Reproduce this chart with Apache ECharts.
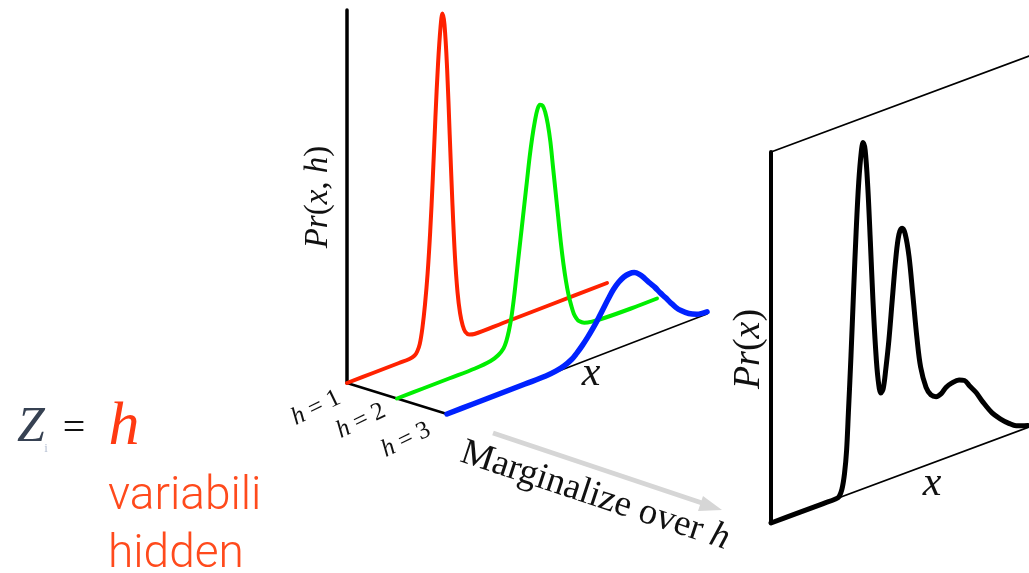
<!DOCTYPE html>
<html>
<head>
<meta charset="utf-8">
<script src="https://cdn.jsdelivr.net/npm/echarts@6/dist/echarts.min.js"></script>
<style>
  html, body { margin: 0; padding: 0; background: #ffffff; }
  #chart { width: 1029px; height: 573px; }
</style>
</head>
<body>
<div id="chart"></div>
<script>
// ---- data -------------------------------------------------------------
// x positions along the x axis (0..100) and Pr(x, h) for each hidden state
const hLevels = [1, 2, 3];
const hTickLabels = ['h = 1', 'h = 2', 'h = 3'];

const xRed = [0, 10, 20, 24, 26, 27, 28, 29, 30, 31, 32, 33, 34, 35, 36, 36.7, 37.5, 38.5, 39.5, 40.5,
              41.5, 42.5, 43.5, 44.5, 45.5, 47, 49, 60, 80, 100];
const prRed = [0, 0, 0, 0, 0.004, 0.012, 0.03, 0.07, 0.13, 0.21, 0.32, 0.46, 0.62, 0.76, 0.86, 0.892, 0.86, 0.74, 0.56, 0.38,
               0.23, 0.13, 0.07, 0.035, 0.015, 0.004, 0, 0, 0, 0];

const xGreen = [0, 10, 20, 30, 36, 39, 41, 42, 43, 44, 45, 46, 47, 48, 49, 50, 51, 52, 53, 54,
                55, 56, 57, 58, 59, 60, 61, 62, 63, 64, 65, 66, 67, 68, 69, 70, 72, 75, 80, 90, 100];
const prGreen = [0, 0, 0, 0, 0.004, 0.012, 0.025, 0.04, 0.065, 0.1, 0.15, 0.21, 0.27, 0.33, 0.39, 0.45, 0.51, 0.56, 0.6, 0.63,
                 0.64, 0.635, 0.615, 0.58, 0.53, 0.46, 0.39, 0.32, 0.25, 0.19, 0.14, 0.1, 0.07, 0.045, 0.03, 0.02, 0.01, 0.005, 0.002, 0, 0];

const xBlue = [0, 10, 20, 30, 38, 42, 45, 48, 50, 52, 54, 56, 58, 60, 62, 64, 66, 68, 70, 72,
               74, 76, 78, 80, 82, 84, 86, 88, 90, 93, 96, 100];
const prBlue = [0, 0, 0, 0, 0, 0.003, 0.008, 0.018, 0.03, 0.044, 0.06, 0.078, 0.098, 0.12, 0.142, 0.162, 0.176, 0.185, 0.188, 0.186,
                0.176, 0.16, 0.142, 0.125, 0.105, 0.087, 0.068, 0.05, 0.036, 0.02, 0.01, 0.006];

// marginal Pr(x) after summing over h
const xMarg = [0, 10, 20, 25, 26.4, 27.5, 28.5, 29.3, 30, 31, 32, 33, 34, 35, 35.7, 36.5, 37.5, 38.5, 39.5, 40.5,
               41.5, 42.6, 43.5, 44.5, 45.7, 47, 48.4, 49.6, 50.8, 52, 53.5, 55, 56.6, 58, 60.1, 62, 64, 66, 67.8, 70,
               72.9, 75, 77, 79.5, 82, 85.7, 89, 92.2, 95, 99.6];
const prMarg = [0, 0, 0, 0, 0.003, 0.02, 0.06, 0.12, 0.22, 0.37, 0.54, 0.70, 0.83, 0.91, 0.933, 0.91, 0.81, 0.66, 0.5, 0.37,
                0.28, 0.24, 0.25, 0.3, 0.375, 0.48, 0.59, 0.65, 0.663, 0.645, 0.58, 0.47, 0.35, 0.27, 0.21, 0.185, 0.175, 0.178, 0.19, 0.196,
                0.197, 0.19, 0.17, 0.146, 0.115, 0.075, 0.05, 0.03, 0.016, 0.005];

// ---- layout -------------------------------------------------------------
const W = 1029, H = 573;
const SERIF = '"Liberation Serif", "DejaVu Serif", serif';
const SANS = 'Roboto, "Liberation Sans", sans-serif';
const ORANGE = '#ff4a1c';

// oblique frames: origin, x direction (full range), h step, height of Pr = 1
const jointFrame = { ox: 347, oy: 383, xv: [260, -100], hv: [50, 15.5], v: 373 };
const margFrame = { ox: 771, oy: 523, xv: [258, -96], hv: [0, 0], v: 371 };

function project(f, x, h, p) {
  return [
    f.ox + x / 100 * f.xv[0] + (h - 1) * f.hv[0],
    f.oy + x / 100 * f.xv[1] + (h - 1) * f.hv[1] - p * f.v
  ];
}
function curve(f, xs, ps, h) {
  return xs.map((x, i) => project(f, x, h, ps[i]));
}
function lineSeries(data, color, width, smooth) {
  return {
    type: 'line', data, smooth: smooth ? 0.35 : false, symbol: 'none', silent: true,
    lineStyle: { color, width, cap: 'round', join: 'round' }
  };
}

const series = [
  // joint panel axes
  lineSeries([project(jointFrame, 0, 1, 0), project(jointFrame, 0, 1, 1)], '#000', 3.5),
  lineSeries([project(jointFrame, 0, 1, 0), project(jointFrame, 0, 3, 0)], '#000', 2.5),
  lineSeries([project(jointFrame, 0, 3, 0), project(jointFrame, 100, 3, 0)], '#000', 1.6),
  // conditional curves, one per hidden state
  lineSeries(curve(jointFrame, xRed, prRed, hLevels[0]), '#ff2200', 4, true),
  lineSeries(curve(jointFrame, xGreen, prGreen, hLevels[1]), '#00ee00', 4, true),
  lineSeries(curve(jointFrame, xBlue, prBlue, hLevels[2]), '#0022ff', 5.5, true),
  // marginal panel frame
  lineSeries([project(margFrame, 0, 1, 0), project(margFrame, 0, 1, 1)], '#000', 4),
  lineSeries([project(margFrame, 0, 1, 0), project(margFrame, 100, 1, 0)], '#000', 1.8),
  lineSeries([project(margFrame, 0, 1, 1), project(margFrame, 100, 1, 1)], '#000', 1.8),
  lineSeries(curve(margFrame, xMarg, prMarg, 1), '#000', 5, true)
];

const italic = (size) => ({ fontFamily: SERIF, fontStyle: 'italic', fontSize: size, fill: '#111' });
const upright = (size) => ({ fontFamily: SERIF, fontSize: size, fill: '#111' });
function richText(x, y, rot, str, size) {
  return {
    type: 'text', x, y, rotation: rot, silent: true,
    style: { text: str, align: 'center', verticalAlign: 'middle', rich: { i: italic(size), u: upright(size) } }
  };
}

const graphics = [];
// axis titles
graphics.push(richText(318, 197, Math.PI / 2, '{i|Pr}{u|(}{i|x}{u|, }{i|h}{u|)}', 33));
graphics.push(richText(749, 349, Math.PI / 2, '{i|Pr}{u|(}{i|x}{u|)}', 38));
graphics.push(richText(591, 374, 0, '{i|x}', 42));
graphics.push(richText(932, 484, 0, '{i|x}', 42));

// h tick labels
const hLabelPos = [[316, 408], [361, 421], [406, 440]];
hTickLabels.forEach((lab, i) => {
  const parts = lab.split(' ');
  graphics.push(richText(hLabelPos[i][0], hLabelPos[i][1], 0.45,
    '{i|' + parts[0] + '}{u| ' + parts[1] + ' ' + parts[2] + '}', 25));
});

// marginalisation arrow and caption
graphics.push({
  type: 'line', silent: true,
  shape: { x1: 493, y1: 433, x2: 708, y2: 505 },
  style: { stroke: '#d6d6d6', lineWidth: 5 }
});
graphics.push({
  type: 'polygon', silent: true,
  shape: { points: [[722, 510], [703, 496], [698, 511]] },
  style: { fill: '#d6d6d6' }
});
graphics.push(richText(595, 496, -0.32, '{u|Marginalize over }{i|h}', 37));

// left-hand note
graphics.push({
  type: 'text', x: 31, y: 428, silent: true,
  style: {
    text: 'Z', fontFamily: SERIF, fontStyle: 'italic', fontSize: 50, fill: '#364152',
    align: 'center', verticalAlign: 'middle', shadowBlur: 2, shadowColor: 'rgba(60,90,140,0.7)'
  }
});
graphics.push({
  type: 'text', x: 46, y: 449, silent: true,
  style: { text: 'i', fontFamily: SERIF, fontSize: 13, fill: '#b8c2d4', align: 'center', verticalAlign: 'middle' }
});
graphics.push({
  type: 'text', x: 74, y: 429, silent: true,
  style: { text: '=', fontFamily: SERIF, fontSize: 40, fill: '#111', align: 'center', verticalAlign: 'middle' }
});
graphics.push({
  type: 'text', x: 124, y: 428, silent: true,
  style: { text: 'h', fontFamily: SERIF, fontStyle: 'italic', fontSize: 62, fill: '#ff3a12', align: 'center', verticalAlign: 'middle' }
});
graphics.push({
  type: 'text', x: 108, y: 497, silent: true,
  style: { text: 'variabili', fontFamily: SANS, fontWeight: 300, fontSize: 46, fill: ORANGE, align: 'left', verticalAlign: 'middle' }
});
graphics.push({
  type: 'text', x: 108, y: 555, silent: true,
  style: { text: 'hidden', fontFamily: SANS, fontWeight: 300, fontSize: 46, fill: ORANGE, align: 'left', verticalAlign: 'middle' }
});

const chart = echarts.init(document.getElementById('chart'));
chart.setOption({
  animation: false,
  backgroundColor: '#ffffff',
  grid: { left: 0, right: 0, top: 0, bottom: 0 },
  xAxis: { type: 'value', min: 0, max: W, show: false },
  yAxis: { type: 'value', min: 0, max: H, inverse: true, show: false },
  series,
  graphic: graphics
});
</script>
</body>
</html>
